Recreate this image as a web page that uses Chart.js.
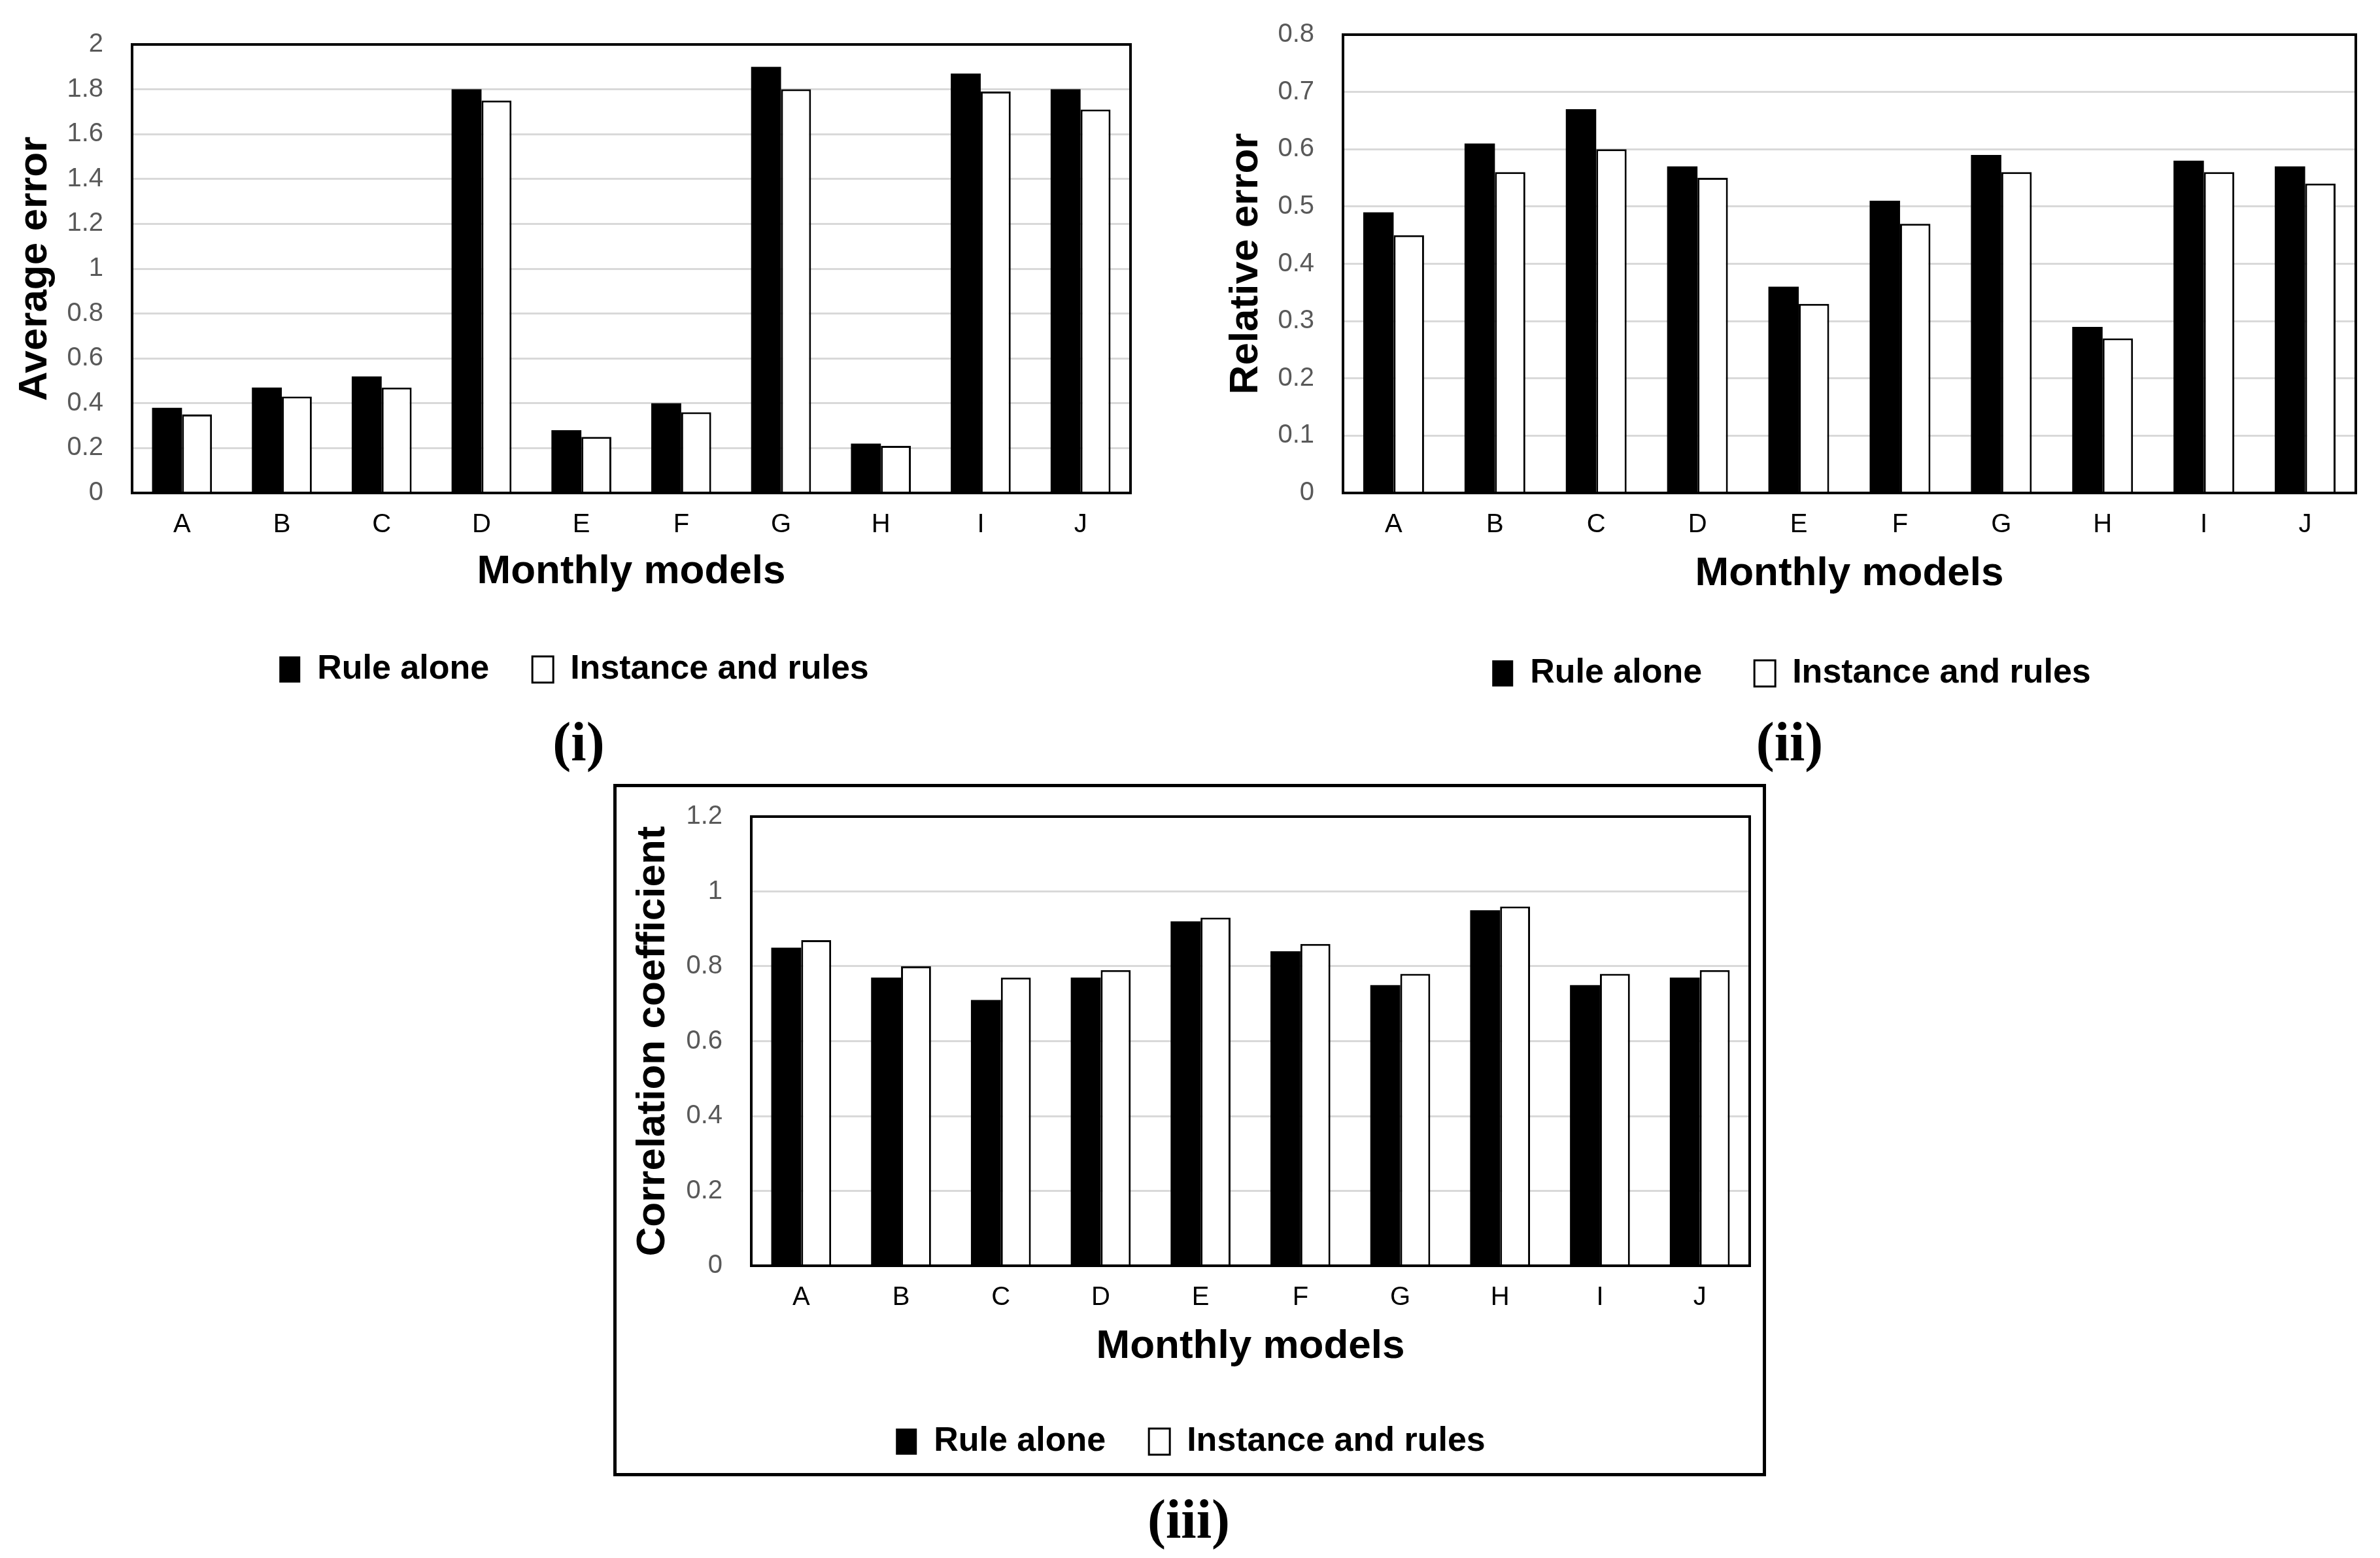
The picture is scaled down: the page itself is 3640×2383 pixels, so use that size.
<!DOCTYPE html>
<html>
<head>
<meta charset="utf-8">
<script src="https://cdn.jsdelivr.net/npm/chart.js@4.4.1/dist/chart.umd.min.js"></script>
<style>
  html, body { margin: 0; padding: 0; background: #fff; }
  body { position: relative; width: 3640px; height: 2383px; overflow: hidden; }
  canvas { position: absolute; }
  .cap { position: absolute; font-family: "Liberation Serif", serif; font-weight: bold; font-size: 84px;
         line-height: 1; transform: translate(-50%, -50%); white-space: nowrap; color: #000; }
  #box3 { position: absolute; left: 938px; top: 1199px; width: 1763px; height: 1059px;
          border: 5px solid #000; box-sizing: border-box; }
</style>
</head>
<body>
<div id="box3"></div>
<canvas id="chart1" width="1742" height="1100" style="left:27px;top:-32px;width:1742px;height:1100px"></canvas>
<canvas id="chart2" width="1766" height="1121" style="left:1877px;top:-47px;width:1766px;height:1121px"></canvas>
<canvas id="chart3" width="1750" height="1100" style="left:966px;top:1149px;width:1750px;height:1100px"></canvas>
<div class="cap" style="left:885px;top:1135px">(i)</div>
<div class="cap" style="left:2737px;top:1135px">(ii)</div>
<div class="cap" style="left:1818px;top:2324px">(iii)</div>
<script>
// monthly models on the x axis
const models = ['A', 'B', 'C', 'D', 'E', 'F', 'G', 'H', 'I', 'J'];

// (i) average error
const avgRule = [0.38, 0.47, 0.52, 1.80, 0.28, 0.40, 1.90, 0.22, 1.87, 1.80];
const avgInst = [0.35, 0.43, 0.47, 1.75, 0.25, 0.36, 1.80, 0.21, 1.79, 1.71];
const avgTicks = ['0', '0.2', '0.4', '0.6', '0.8', '1', '1.2', '1.4', '1.6', '1.8', '2'];

// (ii) relative error
const relRule = [0.49, 0.61, 0.67, 0.57, 0.36, 0.51, 0.59, 0.29, 0.58, 0.57];
const relInst = [0.45, 0.56, 0.60, 0.55, 0.33, 0.47, 0.56, 0.27, 0.56, 0.54];
const relTicks = ['0', '0.1', '0.2', '0.3', '0.4', '0.5', '0.6', '0.7', '0.8'];

// (iii) correlation coefficient
const corRule = [0.85, 0.77, 0.71, 0.77, 0.92, 0.84, 0.75, 0.95, 0.75, 0.77];
const corInst = [0.87, 0.80, 0.77, 0.79, 0.93, 0.86, 0.78, 0.96, 0.78, 0.79];
const corTicks = ['0', '0.2', '0.4', '0.6', '0.8', '1', '1.2'];

const seriesNames = ['Rule alone', 'Instance and rules'];

// black frame round the plot area
const framePlugin = {
    id: 'frame',
    afterDatasetsDraw(chart) {
        const a = chart.chartArea;
        const c = chart.ctx;
        c.save();
        c.strokeStyle = '#000';
        c.lineWidth = 4;
        c.strokeRect(a.left, a.top, a.right - a.left, a.bottom - a.top);
        c.restore();
    }
};

function makeChart(id, rule, inst, ticks, step, yTitle, lay) {
    const contex = document.getElementById(id).getContext('2d');
    return new Chart(contex, {
        type: 'bar',
        data: {
            labels: models,
            datasets: [
                {
                    label: seriesNames[0],
                    data: rule,
                    backgroundColor: '#000',
                    borderColor: '#000',
                    borderWidth: 0
                },
                {
                    label: seriesNames[1],
                    data: inst,
                    backgroundColor: '#fff',
                    borderColor: '#000',
                    borderWidth: 3
                }
            ]
        },
        options: {
            responsive: false,
            animation: false,
            devicePixelRatio: 1,
            categoryPercentage: 0.6,
            barPercentage: 1.0,
            // top padding is larger than the y tick overhang so it alone sets the plot top
            layout: { padding: { top: 100, right: 40, bottom: 8, left: 0 } },
            plugins: {
                tooltip: { enabled: false },
                legend: {
                    position: 'bottom',
                    labels: {
                        color: '#000',
                        font: { family: 'Liberation Sans', size: 52, weight: 'bold' },
                        boxWidth: 32,
                        boxHeight: 40,
                        padding: lay.legendPad
                    }
                }
            },
            scales: {
                x: {
                    grid: { display: false, drawTicks: false },
                    border: { display: true, color: '#000', width: 4 },
                    ticks: {
                        color: '#000',
                        padding: 25,
                        font: { family: 'Liberation Sans', size: 40 }
                    },
                    title: {
                        display: true,
                        text: 'Monthly models',
                        color: '#000',
                        font: { family: 'Liberation Sans', size: 62, weight: 'bold', lineHeight: 1.0 },
                        padding: { top: 0, bottom: lay.xTitlePad }
                    },
                    afterFit: (s) => { s.height = lay.xAxisH; }
                },
                y: {
                    min: 0,
                    max: step * (ticks.length - 1),
                    grid: { color: '#d9d9d9', lineWidth: 3, drawTicks: false },
                    border: { display: true, color: '#000', width: 4 },
                    ticks: {
                        stepSize: step,
                        color: '#595959',
                        padding: 44,
                        font: { family: "'Liberation Sans', Arial, sans-serif", size: 40 },
                        callback: (v) => ticks[Math.round(v / step)]
                    },
                    title: {
                        display: true,
                        text: yTitle,
                        color: '#000',
                        font: { family: 'Liberation Sans', size: 62, weight: 'bold', lineHeight: 0.8 },
                        padding: { top: lay.yTitlePad, bottom: 0 }
                    },
                    afterFit: (s) => { s.width = lay.yAxisW; }
                }
            }
        },
        plugins: [framePlugin]
    });
}

makeChart('chart1', avgRule, avgInst, avgTicks, 0.2, 'Average error',
    { yAxisW: 175, xAxisH: 178, yTitlePad: 2, xTitlePad: 26, legendPad: 66 });
makeChart('chart2', relRule, relInst, relTicks, 0.1, 'Relative error',
    { yAxisW: 177, xAxisH: 170, yTitlePad: 4, xTitlePad: 15, legendPad: 80 });
makeChart('chart3', corRule, corInst, corTicks, 0.2, 'Correlation coefficient',
    { yAxisW: 183, xAxisH: 177, yTitlePad: 8, xTitlePad: 22, legendPad: 66 });
</script>
</body>
</html>
